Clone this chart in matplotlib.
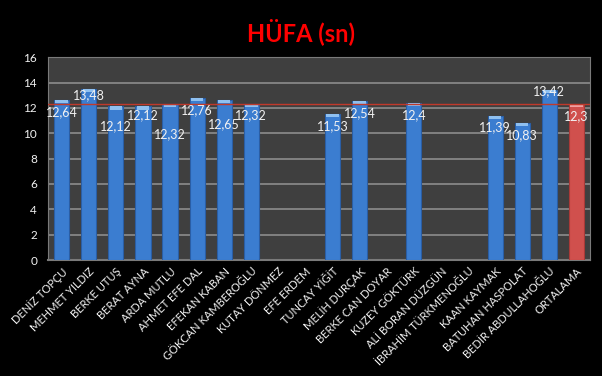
import numpy as np
import matplotlib.pyplot as plt

plt.rcParams['font.family'] = ['Lato', 'DejaVu Sans']

names = ['DENİZ TOPÇU', 'MEHMET YILDIZ', 'BERKE UTUŞ', 'BERAT AYNA', 'ARDA MUTLU',
         'AHMET EFE DAL', 'EFEKAN KABAN', 'GÖKCAN KAMBEROĞLU', 'KUTAY DÖNMEZ',
         'EFE ERDEM', 'TUNCAY YİĞİT', 'MELİH DURÇAK', 'BERKE CAN DOYAR',
         'KUZEY GÖKTÜRK', 'ALİ BORAN DÜZGÜN', 'İBRAHİM TÜRKMENOĞLU', 'KAAN KAYMAK',
         'BATUHAN HASPOLAT', 'BEDİR ABDULLAHOĞLU', 'ORTALAMA']
times = [12.64, 13.48, 12.12, 12.12, 12.32, 12.76, 12.65, 12.32, np.nan,
         np.nan, 11.53, 12.54, np.nan, 12.4, np.nan, np.nan, 11.39,
         10.83, 13.42, 12.3]
average = 12.3

# how far below the bar top each value label sits (staggered like the original)
label_drop = [1.0, 0.5, 1.55, 0.7, 2.4, 0.95, 1.95, 0.9, 0, 0, 1.0, 0.95, 0,
              0.95, 0, 0, 0.9, 1.0, 0.1, 0.95]

fig = plt.figure(figsize=(6.02, 3.76), dpi=100, facecolor='black')
ax = fig.add_axes([0.080, 0.3085, 0.900, 0.5395])
ax.set_facecolor('#3f3f3f')

x = np.arange(len(names))
colors = ['#3b7dd0'] * (len(names) - 1) + ['#d0504d']
edges = ['#2a5ea5'] * (len(names) - 1) + ['#a83a38']
ax.bar(x, times, width=0.56, color=colors, edgecolor=edges, linewidth=0.8, zorder=3)

# lighter cap on each bar
for xi, v, c in zip(x, times, colors):
    if np.isnan(v):
        continue
    cap = '#8fc0f0' if c == '#3b7dd0' else '#f0a0a0'
    ax.bar(xi, 0.25, bottom=v - 0.25, width=0.46, color=cap, zorder=4)

for xi, v, d in zip(x, times, label_drop):
    if np.isnan(v):
        continue
    ax.text(xi, v - d, f'{v:g}'.replace('.', ','), ha='center', va='center',
            color='#f2f2f2', fontsize=9, zorder=5)

ax.axhline(average, color='#c0392b', linewidth=1, zorder=4)

ax.set_ylim(0, 16)
ax.set_yticks(range(0, 17, 2))
ax.set_xlim(-0.5, len(names) - 0.5)
ax.set_xticks(x)
ax.set_xticklabels(names, rotation=45, ha='right', rotation_mode='anchor',
                   fontsize=8, color='#f2f2f2')
ax.tick_params(axis='y', colors='#f2f2f2', labelsize=8.5, length=0, pad=8)
ax.tick_params(axis='x', length=0, pad=4)
ax.yaxis.grid(True, color='#8c8c8c', linewidth=1.2, zorder=0)
ax.set_axisbelow(True)
for s in ax.spines.values():
    s.set_color('#7a7a7a')
ax.spines['bottom'].set_linewidth(1.5)

fig.text(0.5, 0.915, 'HÜFA (sn)', ha='center', va='center', color='#ff0000',
         fontsize=17, fontweight='bold')

fig.savefig('out.png', dpi=100, facecolor='black')
